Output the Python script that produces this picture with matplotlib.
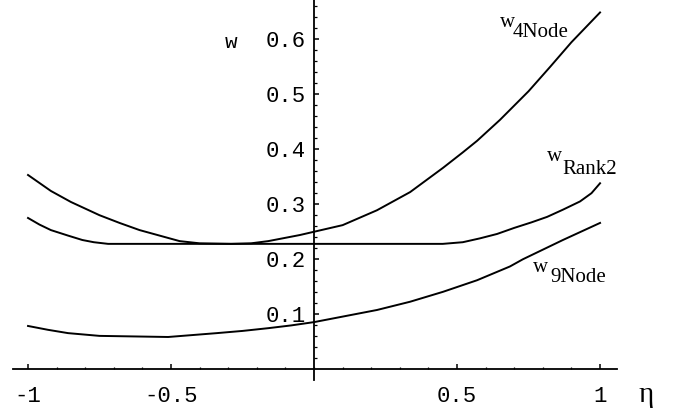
import numpy as np
import matplotlib
matplotlib.use("Agg")
import matplotlib.pyplot as plt
from matplotlib.ticker import FixedLocator

plt.rcParams['axes.unicode_minus'] = False

# curves
eta_4node = [-1.0, -0.92, -0.85, -0.75, -0.68, -0.61, -0.47, -0.4, -0.29, -0.22, -0.16, -0.05,
             0.0, 0.1, 0.22, 0.336, 0.451, 0.52, 0.57, 0.65, 0.75, 0.825, 0.9, 1.0]
w_4node = [0.353, 0.324, 0.304, 0.280, 0.266, 0.253, 0.233, 0.229, 0.228, 0.229, 0.233, 0.244,
           0.250, 0.262, 0.289, 0.322, 0.366, 0.394, 0.415, 0.453, 0.505, 0.549, 0.594, 0.648]

eta_rank2 = [-1.0, -0.96, -0.92, -0.86, -0.81, -0.77, -0.72, -0.6, 0.0, 0.45, 0.52, 0.58,
             0.64, 0.70, 0.76, 0.815, 0.87, 0.93, 0.97, 1.0]
w_rank2 = [0.275, 0.263, 0.253, 0.243, 0.235, 0.231, 0.228, 0.228, 0.228, 0.228, 0.231, 0.238,
           0.246, 0.257, 0.267, 0.277, 0.290, 0.305, 0.320, 0.338]

eta_9node = [-1.0, -0.93, -0.86, -0.75, -0.63, -0.51, -0.34, -0.25, -0.16, -0.08, 0.0, 0.1,
             0.22, 0.336, 0.451, 0.57, 0.685, 0.73, 0.87, 1.0]
w_9node = [0.079, 0.072, 0.066, 0.061, 0.060, 0.059, 0.066, 0.070, 0.075, 0.080, 0.086, 0.096,
           0.108, 0.123, 0.141, 0.162, 0.187, 0.200, 0.235, 0.266]

xticks = [-1, -0.5, 0.5, 1]
xticklabels = ['-1', '-0.5', '0.5', '1']
yticks = [0.1, 0.2, 0.3, 0.4, 0.5, 0.6]
yticklabels = ['0.1', '0.2', '0.3', '0.4', '0.5', '0.6']

fig = plt.figure(figsize=(6.87, 4.09), dpi=100)
ax = fig.add_axes([0, 0, 1, 1])
ax.set_xlim(-1.098, 1.304)
ax.set_ylim(-0.0717, 0.6706)

for xs, ys in [(eta_4node, w_4node), (eta_rank2, w_rank2), (eta_9node, w_9node)]:
    ax.plot(xs, ys, color='black', lw=1.4, solid_joinstyle='round')

# Mathematica style axes crossing at the origin
ax.spines['left'].set_position(('data', 0))
ax.spines['bottom'].set_position(('data', 0))
ax.spines['top'].set_visible(False)
ax.spines['right'].set_visible(False)
ax.spines['left'].set_bounds(-0.019, 0.67)
ax.spines['bottom'].set_bounds(-1.052, 1.059)
ax.spines['left'].set_linewidth(1.3)
ax.spines['bottom'].set_linewidth(1.3)

ax.set_xticks(xticks)
ax.set_xticklabels(xticklabels)
ax.set_yticks(yticks)
ax.set_yticklabels(yticklabels)
ax.xaxis.set_minor_locator(FixedLocator(np.arange(-10, 11) / 10))
ax.yaxis.set_minor_locator(FixedLocator(np.arange(1, 34) * 0.02))
ax.tick_params(axis='both', which='major', direction='in', length=3.6, width=1.1,
               labelsize=16)
ax.tick_params(axis='both', which='minor', direction='in', length=1.8, width=0.9)
ax.tick_params(axis='x', which='major', pad=12)
ax.tick_params(axis='y', which='major', pad=6)
for lab in ax.get_xticklabels() + ax.get_yticklabels():
    lab.set_family('Liberation Mono')

ax.text(-0.29, 0.583, 'w', family='Liberation Mono', fontsize=15, ha='center', va='baseline')
ax.text(1.161, -0.046, 'η', family='Liberation Serif', fontsize=21, ha='center', va='center')

serif = 'Liberation Serif'
ax.text(0.650, 0.621, 'w', family=serif, fontsize=15, va='baseline')
ax.text(0.696, 0.603, '4Node', family=serif, fontsize=15, va='baseline')
ax.text(0.815, 0.378, 'w', family=serif, fontsize=15, va='baseline')
ax.text(0.867, 0.355, 'Rank2', family=serif, fontsize=15, va='baseline')
ax.text(0.766, 0.177, 'w', family=serif, fontsize=15, va='baseline')
ax.text(0.825, 0.159, '9Node', family=serif, fontsize=15, va='baseline')

fig.savefig('out.png', dpi=100)
